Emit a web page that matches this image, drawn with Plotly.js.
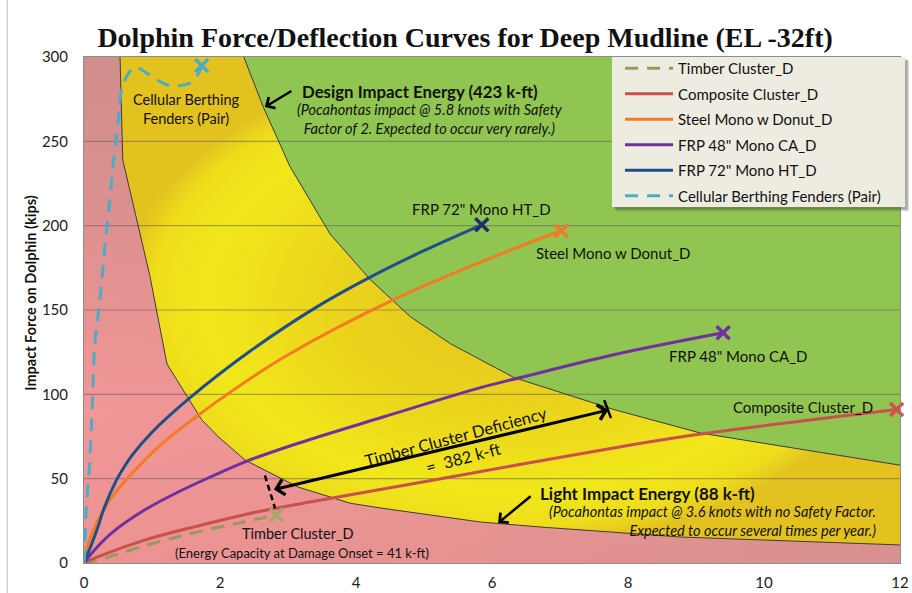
<!DOCTYPE html>
<html>
<head>
<meta charset="utf-8">
<script src="https://cdn.plot.ly/plotly-3.0.1.min.js"></script>
<style>
  html, body { margin: 0; padding: 0; background: #ffffff; }
  #chart { width: 912px; height: 593px; }
</style>
</head>
<body>
<div id="chart"></div>
<script>
// Axis extents and grid
const X_MAX = 12, Y_MAX = 300;
const xTicks = [0, 2, 4, 6, 8, 10, 12];
const yTicks = [0, 50, 100, 150, 200, 250, 300];
const gridVals = [50, 100, 150, 200, 250];

// Energy boundaries (deflection in ft, force in kips)
const designX = [2.35, 2.64, 3.03, 3.62, 4.21, 4.80, 5.39, 6.32, 7.79, 9.07, 12];
const designY = [300, 270, 235, 195, 168, 146, 130, 110, 91, 77, 58];
const lightX = [0.53, 0.57, 0.97, 1.22, 1.73, 1.97, 2.37, 2.86, 3.15, 3.92, 4.36, 5.83, 6.72, 8.78, 12];
const lightY = [300, 239, 170, 118, 85, 75, 61, 51, 45, 35.4, 32.6, 24.3, 21.3, 15.4, 10.7];

// Force / deflection curves
const timberX = [0, 0.21, 0.89, 1.63, 2.37, 2.83];
const timberY = [0, 1.8, 10.2, 18, 24.5, 28.5];
const compositeX = [0, 0.21, 0.89, 1.63, 2.37, 3.3, 5.39, 8.04, 9.07, 11.95];
const compositeY = [0, 3.8, 13.6, 21.5, 28.8, 36, 51, 70, 76.5, 91];
const steelX = [0, 0.05, 0.2, 0.4, 0.68, 1.14, 1.63, 2.0, 2.94, 4.6, 6.27, 7.02];
const steelY = [0, 10, 25, 38.5, 52, 70.5, 86, 97, 122, 157, 185.5, 197];
const frp48X = [0, 0.11, 0.40, 0.89, 1.38, 1.87, 2.37, 3.15, 4.41, 5.83, 6.42, 7.79, 9.4];
const frp48Y = [0, 5.7, 17.6, 31.4, 42, 51.2, 60, 71, 86.7, 104, 110, 123.5, 136.5];
const frp72X = [0, 0.11, 0.21, 0.3, 0.475, 0.6, 0.7, 1.0, 1.56, 2.44, 3.43, 4.21, 4.99, 5.85];
const frp72Y = [0, 11, 22, 33, 49, 57.5, 63.5, 77.5, 98, 125.5, 152, 169.5, 185, 200.5];
const fenderX = [0, 0.01, 0.03, 0.08, 0.12, 0.16, 0.24, 0.30, 0.38, 0.43, 0.50, 0.55, 0.65, 0.75, 0.94, 1.19, 1.38, 1.58, 1.68, 1.73];
const fenderY = [0, 5, 30, 57, 92, 130, 158, 185, 215, 237, 260, 280, 290, 294, 290, 284, 283, 285, 290, 295];

const FONT = 'Lato, "Open Sans", sans-serif';

const series = [
  { name: 'Timber Cluster_D', x: timberX, y: timberY, color: '#98985C', mark: '#A3A86C', dash: '13px,9px' },
  { name: 'Composite Cluster_D', x: compositeX, y: compositeY, color: '#C8504D', mark: '#D0524F', dash: 'solid' },
  { name: 'Steel Mono w Donut_D', x: steelX, y: steelY, color: '#F37B23', mark: '#F07A2A', dash: 'solid' },
  { name: 'FRP 48" Mono CA_D', x: frp48X, y: frp48Y, color: '#7030A0', mark: '#7030A0', dash: 'solid' },
  { name: 'FRP 72" Mono HT_D', x: frp72X, y: frp72Y, color: '#1F4E8A', mark: '#1F2F66', dash: 'solid' },
  { name: 'Cellular Berthing Fenders (Pair)', x: fenderX, y: fenderY, color: '#4BACC6', mark: '#4BACC6', dash: '13px,9px' }
];

const traces = [];

// Pink damage zone covering the whole plot area
traces.push({
  x: [0, X_MAX, X_MAX, 0], y: [0, 0, Y_MAX, Y_MAX],
  mode: 'lines', fill: 'toself', line: { width: 0 },
  fillgradient: { type: 'vertical', start: 0, stop: Y_MAX,
    colorscale: [[0, '#EC9392'], [0.3, '#F29696'], [0.65, '#DE9190'], [1, '#D18E8C']] },
  hoverinfo: 'skip', showlegend: false
});
traces.push({
  x: [0, X_MAX, X_MAX, 0], y: [0, 0, Y_MAX, Y_MAX],
  mode: 'lines', fill: 'toself', line: { width: 0 },
  fillgradient: { type: 'horizontal', start: 0, stop: X_MAX,
    colorscale: [[0, 'rgba(210,144,142,0)'], [0.4, 'rgba(210,144,142,0.2)'], [1, 'rgba(210,144,142,0.75)']] },
  hoverinfo: 'skip', showlegend: false
});

// Yellow band between light and design impact energy
traces.push({
  x: designX.concat(lightX.slice().reverse()),
  y: designY.concat(lightY.slice().reverse()),
  mode: 'lines', fill: 'toself', line: { width: 0 },
  fillgradient: { type: 'radial',
    colorscale: [[0, '#E3C21F'], [0.45, '#EBD41C'], [0.78, '#F1E71A'], [0.92, '#EEDD1B'], [1, '#E3C220']] },
  hoverinfo: 'skip', showlegend: false
});

// Green zone beyond design impact energy
traces.push({
  x: designX.concat([X_MAX]), y: designY.concat([Y_MAX]),
  mode: 'lines', fill: 'toself', fillcolor: '#90C552', line: { width: 0 },
  hoverinfo: 'skip', showlegend: false
});

// Horizontal gridlines, drawn over the zone fills
const gx = [], gy = [];
gridVals.forEach(v => { gx.push(0, X_MAX, null); gy.push(v, v, null); });
traces.push({ x: gx, y: gy, mode: 'lines', line: { color: 'rgba(90,90,90,0.5)', width: 1.2 },
  hoverinfo: 'skip', showlegend: false });

// Energy boundary outlines
[[designX, designY], [lightX, lightY]].forEach(([bx, by]) => {
  traces.push({ x: bx, y: by, mode: 'lines', line: { color: '#3C3C3C', width: 1 },
    hoverinfo: 'skip', showlegend: false });
});

// Curves
series.forEach((s, i) => {
  traces.push({
    name: s.name, x: s.x, y: s.y, mode: 'lines', legendgroup: 'g' + i,
    line: { color: s.color, width: 3, dash: s.dash, shape: 'spline', smoothing: 1 }
  });
});
// End-of-curve markers
series.forEach((s, i) => {
  traces.push({
    x: [s.x[s.x.length - 1]], y: [s.y[s.y.length - 1]], mode: 'markers', legendgroup: 'g' + i,
    marker: { symbol: 'x-thin', size: 13, line: { color: s.mark, width: 3.5 } },
    showlegend: false, hoverinfo: 'skip', cliponaxis: false
  });
});

const ann = (x, y, text, size, extra) => Object.assign({
  x: x, y: y, xref: 'x', yref: 'y', text: text, showarrow: false,
  font: { family: FONT, size: size, color: '#111111' }
}, extra || {});

const annotations = [
  ann(1.50, 269.2, 'Cellular Berthing<br>Fenders (Pair)', 14.5),
  ann(4.94, 279.8, '<b>Design Impact Energy (423 k-ft)</b>', 16.8),
  ann(5.09, 263, '<i>(Pocahontas impact @ 5.8 knots with Safety<br>Factor of 2. Expected to occur very rarely.)</i>', 14.5),
  ann(5.85, 209.9, 'FRP 72" Mono HT_D', 15),
  ann(7.79, 183.6, 'Steel Mono w Donut_D', 15),
  ann(9.62, 122.9, 'FRP 48" Mono CA_D', 15),
  ann(10.57, 92.7, 'Composite Cluster_D', 15),
  ann(3.15, 17.2, 'Timber Cluster_D', 14.5),
  ann(3.21, 5.8, '(Energy Capacity at Damage Onset = 41 k-ft)', 13),
  ann(5.47, 74.7, 'Timber Cluster Deficiency', 16.5, { textangle: -15 }),
  ann(5.58, 62.1, '=  382 k-ft', 16.5, { textangle: -15 }),
  ann(8.28, 41.2, '<b>Light Impact Energy (88 k-ft)</b>', 17),
  ann(11.68, 25, '<i>(Pocahontas impact @ 3.6 knots with no Safety Factor.<br>Expected to occur several times per year.)</i>', 14.5, { xanchor: 'right', align: 'right' }),
  // y-axis title
  { x: -0.065, y: 0.534, xref: 'paper', yref: 'paper', xanchor: 'center', yanchor: 'middle',
    text: '<b>Impact Force on Dolphin (kips)</b>', textangle: -90, showarrow: false,
    font: { family: FONT, size: 14.5, color: '#111111' } },
  // pointer arrows
  { x: 2.66, y: 270.3, xref: 'x', yref: 'y', ax: 28, ay: -17, text: '', showarrow: true,
    arrowhead: 4, arrowsize: 1, arrowwidth: 2.5, arrowcolor: '#000000' },
  { x: 6.09, y: 23.7, xref: 'x', yref: 'y', ax: 34, ay: -28, text: '', showarrow: true,
    arrowhead: 4, arrowsize: 1, arrowwidth: 2.5, arrowcolor: '#000000' },
  // deficiency span
  { x: 7.71, y: 90.7, xref: 'x', yref: 'y', ax: 2.77, ay: 43.3, axref: 'x', ayref: 'y', text: '',
    showarrow: true, arrowside: 'end+start', arrowhead: 4, startarrowhead: 4,
    arrowsize: 1, startarrowsize: 1, arrowwidth: 3, arrowcolor: '#000000' }
];

const shapes = [
  { type: 'line', xref: 'x', yref: 'y', x0: 2.66, y0: 52, x1: 2.81, y1: 32.4,
    line: { color: '#000000', width: 2.5, dash: '6px,4px' } },
  { type: 'line', xref: 'x', yref: 'y', x0: 7.65, y0: 96.6, x1: 7.75, y1: 85.9,
    line: { color: '#000000', width: 2.5 } },
  // legend panel: soft shadow then the panel itself
  { type: 'rect', xref: 'paper', yref: 'paper', x0: 0.6520, x1: 1.0110, y0: 0.6950, y1: 0.9930,
    fillcolor: 'rgba(60,60,60,0.18)', line: { width: 0 }, layer: 'above' },
  { type: 'rect', xref: 'paper', yref: 'paper', x0: 0.6500, x1: 1.0095, y0: 0.6980, y1: 0.9950,
    fillcolor: 'rgba(60,60,60,0.30)', line: { width: 0 }, layer: 'above' },
  { type: 'rect', xref: 'paper', yref: 'paper', x0: 0.6471, x1: 1.0061, y0: 0.7036, y1: 1.0,
    fillcolor: '#EEECE1', line: { width: 0 }, layer: 'above' },
  // outer chart border
  { type: 'line', xref: 'paper', yref: 'paper', x0: -0.094, x1: -0.094, y0: -0.06, y1: 1.12,
    line: { color: '#BFBFBF', width: 1 } }
];

const layout = {
  width: 912, height: 593,
  margin: { l: 84, r: 12, t: 57, b: 30 },
  paper_bgcolor: '#ffffff',
  plot_bgcolor: '#EC9392',
  title: {
    text: '<b>Dolphin Force/Deflection Curves for Deep Mudline (EL -32ft)</b>',
    font: { family: '"Liberation Serif", serif', size: 28, color: '#111111' },
    x: 0.51, xanchor: 'center', y: 0.938, yanchor: 'middle'
  },
  xaxis: {
    range: [0, X_MAX], tickvals: xTicks, ticktext: xTicks.map(String),
    showgrid: false, zeroline: false, showline: true, mirror: true,
    linecolor: '#8C8C8C', linewidth: 1, ticks: '', ticklabelstandoff: 6,
    tickfont: { family: FONT, size: 15, color: '#222222' }
  },
  yaxis: {
    range: [0, Y_MAX], tickvals: yTicks, ticktext: yTicks.map(String),
    showgrid: false, zeroline: false, showline: true, mirror: true,
    linecolor: '#8C8C8C', linewidth: 1, ticks: '', ticklabelstandoff: 12,
    tickfont: { family: FONT, size: 15, color: '#222222' }
  },
  legend: {
    x: 0.6569, y: 1.010, xanchor: 'left', yanchor: 'top',
    bgcolor: 'rgba(0,0,0,0)', borderwidth: 0,
    font: { family: FONT, size: 15, color: '#111111' },
    itemwidth: 48, tracegroupgap: 3, traceorder: 'grouped'
  },
  annotations: annotations,
  shapes: shapes,
  showlegend: true
};

Plotly.newPlot('chart', traces, layout, { displayModeBar: false, staticPlot: true });
</script>
</body>
</html>
